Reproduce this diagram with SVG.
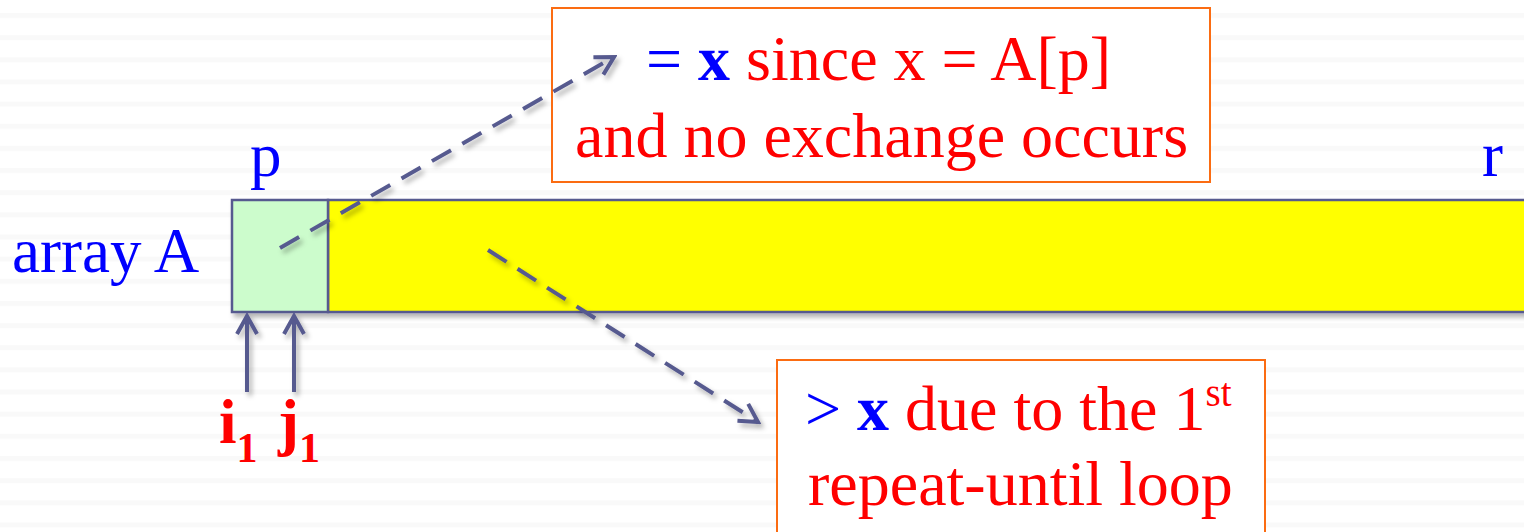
<svg xmlns="http://www.w3.org/2000/svg" width="1524" height="532" viewBox="0 0 1524 532">
<defs>
<pattern id="stripes" x="0" y="13" width="1524" height="22.15" patternUnits="userSpaceOnUse">
<rect x="0" y="0" width="1524" height="5" fill="#f9f9f9"/>
</pattern>
<filter id="sh" x="-10%" y="-30%" width="130%" height="180%">
<feDropShadow dx="3" dy="4" stdDeviation="2.5" flood-color="#000" flood-opacity="0.3"/>
</filter>
<marker id="open" viewBox="0 0 24 24" refX="21" refY="12" markerWidth="24" markerHeight="24" markerUnits="userSpaceOnUse" orient="auto">
<path d="M3,2 L21,12 L3,22" fill="none" stroke="#575a8f" stroke-width="4" stroke-linejoin="miter"/>
</marker>
<style>
.t{font-family:"Liberation Serif","Times New Roman",serif;font-size:63px}
.b{font-size:64px}
.blue{fill:#0000ff}
.red{fill:#ff0000}
.box{fill:#ffffff;stroke:#fb6c12;stroke-width:2}
.cell{stroke:#575a8f;stroke-width:2.5}
.conn{stroke:#575a8f;stroke-width:4;fill:none}
.dash{stroke-dasharray:22 13}
</style>
</defs>
<rect width="1524" height="532" fill="#ffffff"/>
<rect width="1524" height="532" fill="url(#stripes)"/>

<g id="array" filter="url(#sh)">
<rect x="328" y="200" width="1210" height="112" fill="#ffff00" class="cell"/>
<rect x="232" y="200" width="96" height="112" fill="#ccfccc" class="cell"/>
</g>

<g id="label-array"><text class="t blue" x="12" y="272">array A</text></g>
<g id="label-p"><text class="t blue" x="250" y="176">p</text></g>
<g id="label-r"><text class="t blue" x="1482" y="176">r</text></g>

<g id="box-top">
<rect x="552" y="8" width="658" height="174" class="box"/>
<text class="t b" x="646" y="80"><tspan class="blue">= </tspan><tspan class="blue" font-weight="bold">x</tspan><tspan class="red"> since x = A[p]</tspan></text>
<text class="t b red" x="575" y="157">and no exchange occurs</text>
</g>

<g id="box-bottom">
<rect x="777" y="360" width="488" height="190" class="box"/>
<text class="t b" x="805" y="430"><tspan class="blue">&gt; </tspan><tspan class="blue" font-weight="bold">x</tspan><tspan class="red"> due to the 1</tspan><tspan class="red" font-size="39" dy="-24">st</tspan></text>
<text class="t b red" x="808" y="505">repeat-until loop</text>
</g>

<g id="label-i1"><text class="t red" font-weight="bold" x="219" y="443">i<tspan font-size="42" dy="19">1</tspan></text></g>
<g id="label-j1"><text class="t red" font-weight="bold" x="278" y="443">j<tspan font-size="42" dy="19">1</tspan></text></g>

<g id="connectors" filter="url(#sh)">
<line x1="247" y1="392" x2="247" y2="316" class="conn" marker-end="url(#open)"/>
<line x1="294" y1="392" x2="294" y2="316" class="conn" marker-end="url(#open)"/>
<line x1="280" y1="248" x2="614" y2="57" class="conn dash" marker-end="url(#open)"/>
<line x1="488" y1="250" x2="758" y2="422" class="conn dash" marker-end="url(#open)"/>
</g>
</svg>
